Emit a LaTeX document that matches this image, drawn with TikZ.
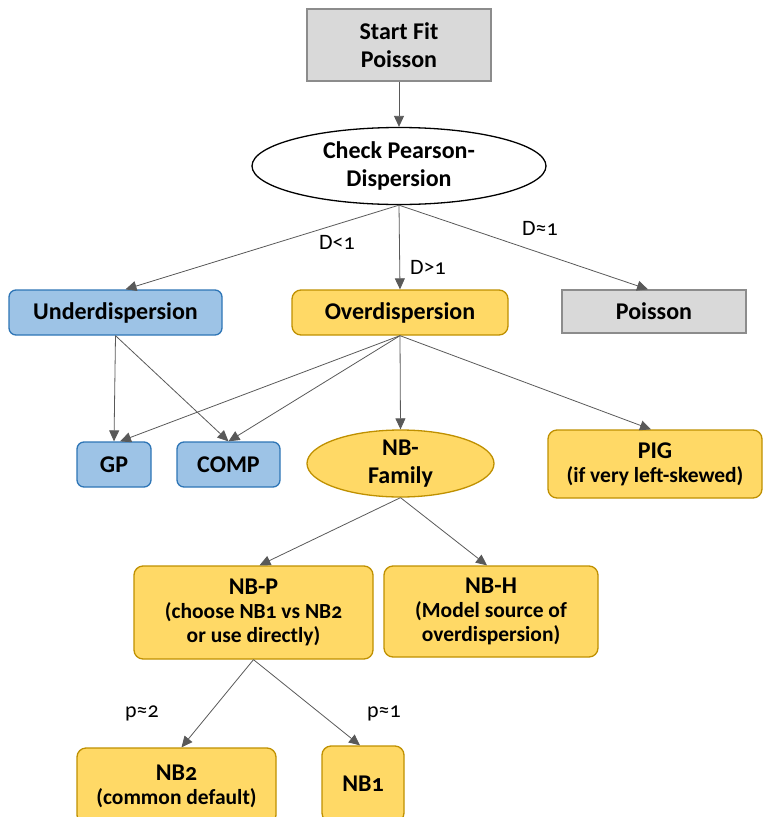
\documentclass[tikz,border=0pt]{standalone}
\usepackage{fontspec}
\setmainfont{Carlito}[Numbers=OldStyle]
\usepackage{tikz}
\usetikzlibrary{arrows.meta,shapes.geometric}
\definecolor{ink}{HTML}{595959}
\definecolor{greyfill}{HTML}{D9D9D9}
\definecolor{greyline}{HTML}{8C8C8C}
\definecolor{bluefill}{HTML}{9DC3E6}
\definecolor{blueline}{HTML}{2E75B6}
\definecolor{goldfill}{HTML}{FFD966}
\definecolor{goldline}{HTML}{BF9000}
\newcommand{\ttl}[1]{{\fontsize{24}{24}\selectfont #1}}

\begin{document}
\begin{tikzpicture}[
  x=1pt, y=-1pt,
  font=\fontsize{24}{28}\selectfont\bfseries,
  box/.style={draw, line width=1.3pt, align=center, inner sep=0pt},
  grey/.style={box, draw=greyline, fill=greyfill},
  under/.style={box, draw=blueline, fill=bluefill, rounded corners=7pt},
  over/.style={box, draw=goldline, fill=goldfill, rounded corners=9pt},
  oval/.style={ellipse, draw, line width=1.3pt, align=center, inner sep=0pt},
  sub/.style={font=\fontsize{21.5}{24}\selectfont\bfseries},
  flow/.style={-{Triangle[length=11pt,width=10pt]}, line width=0.8pt, draw=ink},
  lab/.style={font=\fontsize{22}{24}\selectfont},
]
\useasboundingbox (0,0) rectangle (763,817);
\clip (0,0) rectangle (763,817);
% top
\node[grey, minimum width=184, minimum height=72] (start) at (399,45) {Start Fit\\Poisson};
\node[oval, minimum width=294, minimum height=77] (check) at (399,166) {Check Pearson-\\Dispersion};
% second row
\node[under, minimum width=213, minimum height=45] (udisp) at (115.5,312.5) {Underdispersion};
\node[over, minimum width=216, minimum height=45] (odisp) at (400,312.5) {Overdispersion};
\node[grey, minimum width=184, minimum height=43] (pois) at (654,311.5) {Poisson};
% third row
\node[under, minimum width=74, minimum height=45] (gp) at (114,464.5) {GP};
\node[under, minimum width=103, minimum height=45] (comp) at (228.5,464.5) {COMP};
\node[over, ellipse, rounded corners=0pt, minimum width=187, minimum height=67] (nbfam) at (400.5,463.5) {NB-\\Family};
\node[over, sub, minimum width=214, minimum height=68] (pig) at (655,464) {\ttl{PIG}\\(if very left-skewed)};
% fourth row
\node[over, sub, minimum width=239, minimum height=93] (nbp) at (253.5,612.5) {\ttl{NB-P}\\(choose NB1 vs NB2\\or use directly)};
\node[over, sub, minimum width=214, minimum height=91] (nbh) at (491,611.5) {\ttl{NB-H}\\(Model source of\\overdispersion)};
% bottom row
\node[over, sub, minimum width=199, minimum height=76] (nbtwo) at (176.5,786) {\ttl{NB2}\\(common default)};
\node[over, minimum width=82, minimum height=76] (nbone) at (363,784) {NB1};
% arrows
\draw[flow] (start) -- (check);
\draw[flow] (check.south) -- ([xshift=10]udisp.north);
\draw[flow] (check.south) -- (odisp.north);
\draw[flow] (check.south) -- ([xshift=-6]pois.north);
\draw[flow] (udisp.south) -- (gp.north);
\draw[flow] (udisp.south) -- (comp.north);
\draw[flow] (odisp.south) -- ([xshift=6]gp.north);
\draw[flow] (odisp.south) -- (comp.north);
\draw[flow] (odisp.south) -- (nbfam.north);
\draw[flow] (odisp.south) -- ([xshift=-4]pig.north);
\draw[flow] (nbfam.south) -- ([xshift=6]nbp.north);
\draw[flow] (nbfam.south) -- ([xshift=-4]nbh.north);
\draw[flow] (nbp.south) -- ([xshift=5]nbtwo.north);
\draw[flow] (nbp.south) -- ([xshift=-3]nbone.north);
% labels
\node[lab] (lless) at (337,242) {D<1};
\node[lab] (lmore) at (428,267) {D>1};
\node[lab] (lequal) at (540,228) {D≈1};
\node[lab] (ptwo) at (142,713) {p≈2};
\node[lab] (pone) at (384,713) {p≈1};
\end{tikzpicture}
\end{document}
